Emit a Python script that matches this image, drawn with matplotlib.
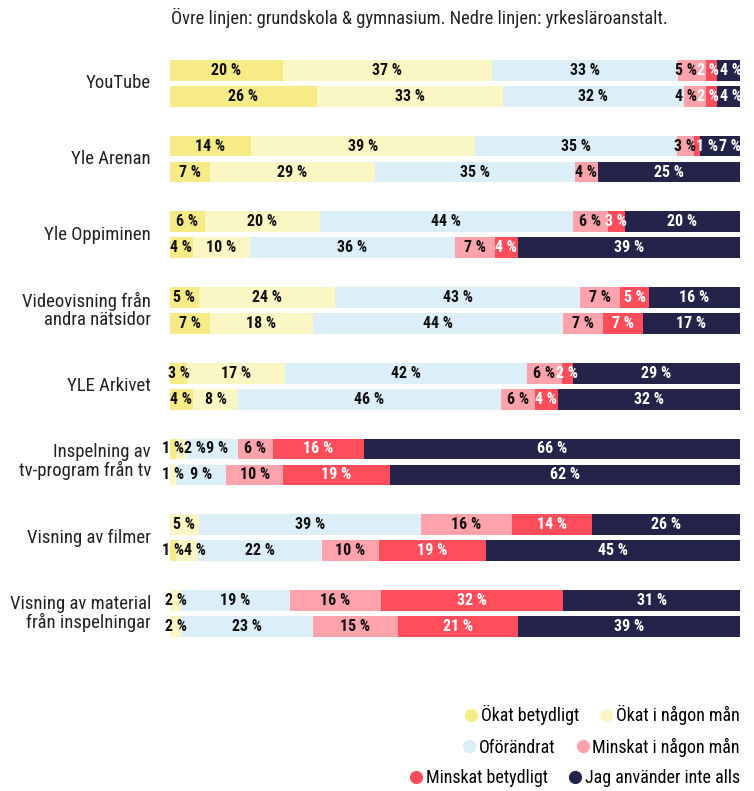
import numpy as np
import matplotlib
matplotlib.use("Agg")
import matplotlib.pyplot as plt
from matplotlib import font_manager
from matplotlib.lines import Line2D

# kategorier (rader) och svarsalternativ
kategorier = ["YouTube", "Yle Arenan", "Yle Oppiminen", "Videovisning från\nandra nätsidor",
              "YLE Arkivet", "Inspelning av\ntv-program från tv", "Visning av filmer",
              "Visning av material\nfrån inspelningar"]
svar = ["Ökat betydligt", "Ökat i någon mån", "Oförändrat", "Minskat i någon mån",
        "Minskat betydligt", "Jag använder inte alls"]
farger = ["#F7EB88", "#FBF7C4", "#DCEEF7", "#FEA3AB", "#FF4D5B", "#24244A"]

# övre linjen: grundskola & gymnasium
ovre = [[20, 37, 33, 5, 2, 4],
        [14, 39, 35, 3, 1, 7],
        [6, 20, 44, 6, 3, 20],
        [5, 24, 43, 7, 5, 16],
        [3, 17, 42, 6, 2, 29],
        [1, 2, 9, 6, 16, 66],
        [0, 5, 39, 16, 14, 26],
        [0, 2, 19, 16, 32, 31]]

# nedre linjen: yrkesläroanstalt
nedre = [[26, 33, 32, 4, 2, 4],
         [7, 29, 35, 4, 0, 25],
         [4, 10, 36, 7, 4, 39],
         [7, 18, 44, 7, 7, 17],
         [4, 8, 46, 6, 4, 32],
         [0, 1, 9, 10, 19, 62],
         [1, 4, 22, 10, 19, 45],
         [0, 2, 23, 15, 21, 39]]

titel = "Övre linjen: grundskola & gymnasium. Nedre linjen: yrkesläroanstalt."

# smal font om den finns
names = {f.name for f in font_manager.fontManager.ttflist}
smal = None
for n in ["Roboto Condensed", "Liberation Sans Narrow", "Open Sans Condensed"]:
    if n in names:
        smal = n
        break
if smal is None:
    smal = "Roboto"
    k = 0.82
else:
    k = 1.0

fig = plt.figure(figsize=(7.54, 7.91), dpi=100)
ax = fig.add_axes([170/754, 1-636.6/791, 570/754, 576.6/791])

steg = 26/75.7
hojd = 20.7/75.7


def bredd(txt):
    # ungefärlig bredd på etiketten i procentenheter
    return 2.5 + 1.4*len(txt.split()[0])


for i in range(len(kategorier)):
    for j, rad in enumerate([ovre[i], nedre[i]]):
        vals = np.array(rad, dtype=float)
        andel = vals / vals.sum() * 100
        y = i + j*steg
        ax.barh(y, andel, left=np.cumsum(andel) - andel, height=hojd, color=farger, linewidth=0)

        # etiketternas lägen, skjut isär de som krockar
        etik = []
        left = 0
        for s in range(len(svar)):
            if rad[s] > 0:
                txt = f"{rad[s]} %"
                etik.append([left + andel[s]/2, bredd(txt), txt, s])
            left += andel[s]
        for e in range(1, len(etik)):
            gap = (etik[e][1] + etik[e-1][1])/2
            etik[e][0] = max(etik[e][0], etik[e-1][0] + gap)
        etik[-1][0] = min(etik[-1][0], 100 - etik[-1][1]/2 + 0.3)
        for e in range(len(etik) - 2, -1, -1):
            gap = (etik[e][1] + etik[e+1][1])/2
            etik[e][0] = min(etik[e][0], etik[e+1][0] - gap)

        for x, w, txt, s in etik:
            c = "white" if s >= 4 else "#111111"
            ax.text(x, y, txt, ha="center", va="center",
                    color=c, fontsize=11.5*k, fontweight="bold", family=smal)

    ax.text(-19/570, i + steg/2, kategorier[i], transform=ax.get_yaxis_transform(),
            ha="right", va="center", fontsize=13.5*k, family=smal, color="#222222",
            linespacing=1.0)

ax.set_xlim(0, 100)
ax.set_ylim(7 + steg + hojd/2, -hojd/2)
ax.axis("off")

fig.text(171/754, 1-18/791, titel, ha="left", va="center", fontsize=13.3*k,
         family=smal, color="#222222")

# legend i tre rader
ypos = [715, 747, 778]
for r in range(3):
    h = [Line2D([], [], marker="o", linestyle="", markersize=9.5,
                markerfacecolor=farger[2*r+q], markeredgewidth=0) for q in range(2)]
    fig.legend(h, svar[2*r:2*r+2], loc="center right", bbox_to_anchor=(740/754, 1-ypos[r]/791),
               ncol=2, frameon=False, borderpad=0, borderaxespad=0, handlelength=0.8,
               handletextpad=0.15, columnspacing=1.1,
               prop={"family": smal, "size": 13*k})

fig.savefig("out.png", dpi=100)
